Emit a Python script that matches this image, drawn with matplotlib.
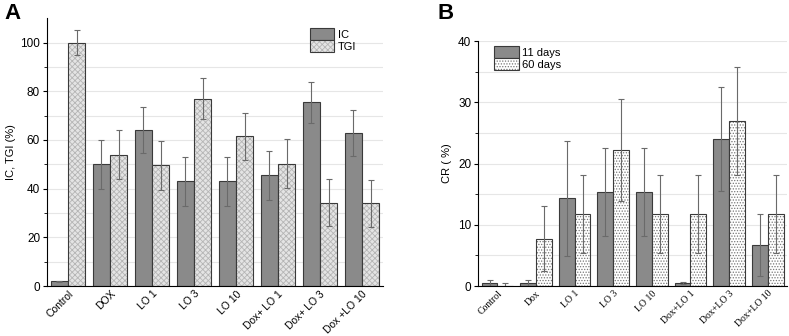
import numpy as np
import matplotlib.pyplot as plt
import matplotlib.patches as mpatches

# Panel A data
groups_a = ["Control", "DOX", "LO 1", "LO 3", "LO 10", "Dox+ LO 1", "Dox+ LO 3", "Dox +LO 10"]
ic = [2, 50, 64, 43, 43, 45.5, 75.5, 63]
ic_err = [0.2, 10, 9.5, 10, 10, 10, 8.5, 9.5]
tgi = [100, 54, 49.5, 77, 61.5, 50.2, 34.2, 34]
tgi_err = [5, 10, 10, 8.3, 9.7, 10, 9.6, 9.6]

# Panel B data
groups_b = ["Control", "Dox", "LO 1", "LO 3", "LO 10", "Dox+LO 1", "Dox+LO 3", "Dox+LO 10"]
d11 = [0.5, 0.5, 14.3, 15.4, 15.4, 0.5, 24, 6.7]
d11_err = [0.5, 0.5, 9.4, 7.2, 7.2, 0.2, 8.5, 5]
d60 = [0, 7.7, 11.8, 22.2, 11.8, 11.8, 27, 11.8]
d60_err = [0.5, 5.3, 6.4, 8.3, 6.4, 6.4, 8.8, 6.4]

plt.rcParams['font.family'] = ['Liberation Sans', 'DejaVu Sans']
plt.rcParams['hatch.linewidth'] = 0.6

fig = plt.figure(figsize=(7.89, 3.36), dpi=100)
ax1 = fig.add_axes([0.0596, 0.1488, 0.4258, 0.797])
ax2 = fig.add_axes([0.606, 0.1488, 0.3915, 0.729])

w = 0.41
dark = '#8a8a8a'
edge = '#3a3a3a'
errkw = dict(ecolor='#6a6a6a', elinewidth=0.8, capsize=2.5, capthick=0.8)


def style(ax, ymax, major, minor):
    ax.spines['top'].set_visible(False)
    ax.spines['right'].set_visible(False)
    ax.set_ylim(0, ymax)
    ax.set_yticks(np.arange(0, ymax + 0.01, major))
    ax.set_yticks(np.arange(minor, ymax, major), minor=True)
    ax.yaxis.grid(True, which='both', color='#e6e6e6', linewidth=0.8)
    ax.set_axisbelow(True)
    ax.tick_params(axis='y', labelsize=8.5, length=3, pad=2)
    ax.tick_params(axis='y', which='minor', length=2)
    ax.tick_params(axis='x', length=0, pad=2)
    ax.set_xlim(-0.5, 7.5)


def hatched_bar(ax, xs, vals, errs, face, hcolor, hatch):
    # hatch drawn in its own colour, outline drawn on top in dark
    ax.bar(xs, vals, w, color=face, edgecolor=hcolor, linewidth=0, hatch=hatch)
    ax.bar(xs, vals, w, yerr=errs, fill=False, edgecolor=edge, linewidth=0.8,
           error_kw=errkw)
    return (mpatches.Patch(facecolor=face, edgecolor=hcolor, linewidth=0, hatch=hatch),
            mpatches.Patch(fill=False, edgecolor=edge, linewidth=0.8))


legkw = dict(frameon=False, fontsize=8, handlelength=2.2, handleheight=1.3,
             labelspacing=0, handletextpad=0.3)

x = np.arange(len(groups_a))
h_ic = ax1.bar(x - w / 2, ic, w, yerr=ic_err, color=dark, edgecolor=edge, linewidth=0.8,
               error_kw=errkw)
h_tgi = hatched_bar(ax1, x + w / 2, tgi, tgi_err, '#e4e4e4', '#b5b5b5', 'xxxxxx')
style(ax1, 110, 20, 10)
ax1.set_xticks(x)
ax1.set_xticklabels(groups_a, rotation=45, ha='right', rotation_mode='anchor', fontsize=7.5)
ax1.set_ylabel('IC, TGI (%)', fontsize=8, labelpad=3)
ax1.legend([h_ic, h_tgi], ['IC', 'TGI'], loc='upper right', bbox_to_anchor=(0.95, 1.0),
           **legkw)

x = np.arange(len(groups_b))
h_11 = ax2.bar(x - w / 2, d11, w, yerr=d11_err, color=dark, edgecolor=edge, linewidth=0.8,
               error_kw=errkw)
h_60 = hatched_bar(ax2, x + w / 2, d60, d60_err, 'white', '#777777', '......')
style(ax2, 40, 10, 5)
ax2.set_xticks(x)
ax2.set_xticklabels(groups_b, rotation=45, ha='right', rotation_mode='anchor', fontsize=7,
                    family='Liberation Serif')
ax2.set_ylabel('CR ( %)', fontsize=8)
ax2.legend([h_11, h_60], ['11 days', '60 days'], loc='upper left',
           bbox_to_anchor=(0.02, 1.02), **legkw)

fig.text(0.006, 0.99, 'A', fontsize=16, fontweight='bold', va='top')
fig.text(0.555, 0.99, 'B', fontsize=16, fontweight='bold', va='top')

fig.savefig('out.png', dpi=100)
